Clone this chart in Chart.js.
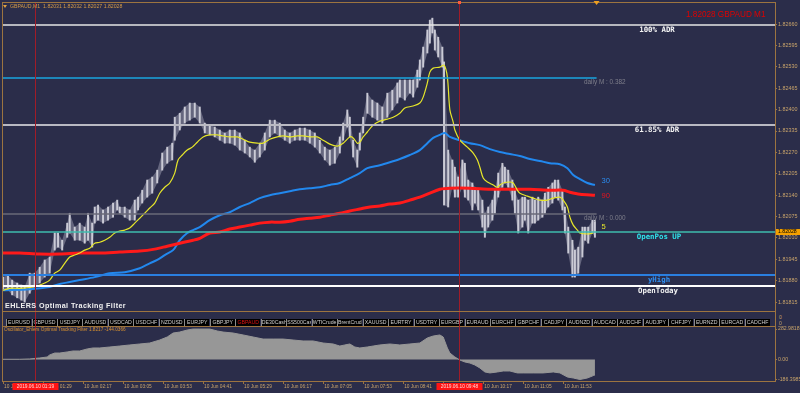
<!DOCTYPE html>
<html>
<head>
<meta charset="utf-8">
<script src="https://cdn.jsdelivr.net/npm/chart.js@4.4.1/dist/chart.umd.min.js"></script>
<style>
  html, body { margin: 0; padding: 0; background: #2b2d4a; }
  #wrap { position: relative; width: 800px; height: 393px; overflow: hidden; background: #2b2d4a; font-family: "Liberation Sans", Arial, sans-serif; }
  canvas { position: absolute; left: 0; }
  #main { top: 0; }
  #osc { top: 326px; }
  .txt { position: absolute; white-space: nowrap; line-height: 1; }
  #head { left: 10px; top: 4px; font-size: 5.2px; color: #d49a46; }
  #headTri { position: absolute; left: 3px; top: 5px; width: 0; height: 0; border-left: 2.5px solid transparent; border-right: 2.5px solid transparent; border-top: 3px solid #e0a040; }
  #symbol { left: 686px; top: 11px; font-size: 8.2px; color: #e00000; }
  #ehlers { left: 5px; top: 302px; font-size: 7.2px; font-weight: bold; color: #f0f0f0; letter-spacing: 0.4px; }
  #tabwin { position: absolute; left: 2px; top: 312px; width: 774px; height: 14px; border-left: 1px solid #9c7440; border-right: 1px solid #9c7440; box-sizing: border-box; }
  .tab { position: absolute; top: 319px; height: 7px; width: 24px; background: #000; color: #cfcfcf; font-size: 5.2px; line-height: 7px; text-align: center; border-left: 1px solid #8a8a8a; overflow: hidden; white-space: nowrap; }
  #osctitle { left: 4px; top: 328px; font-size: 4.7px; color: #d8902e; }
  .ax0 { left: 779px; font-size: 5px; color: #c9a46a; }
  .vseg { position: absolute; width: 1px; background: #a01c28; }
</style>
</head>
<body>
<div id="wrap">
  <canvas id="main" width="800" height="312"></canvas>
  <div id="tabwin"></div>
  <canvas id="osc" width="800" height="67"></canvas>
  <div id="headTri"></div>
  <div class="txt" id="head">GBPAUD,M1&nbsp; 1.82031 1.82032 1.82027 1.82028</div>
  <div class="txt" id="symbol">1.82028 GBPAUD M1</div>
  <div class="txt" id="ehlers">EHLERS Optimal Tracking Filter</div>
  <div class="txt" id="osctitle">Oscillator_Ehlers Optimal Tracking Filter 1.8217 -144.0366</div>
  <div class="txt ax0" style="top:315px">0</div>
  <div class="txt ax0" style="top:321px">0</div>
</div>
<script>
// time in minutes from 10 Jun 00:00, prices in GBPAUD
const barTime = [41,47,52,58,63,67,73,79,85,91,97,103,107,112,118,121,127,133,139,143,148,151,155,161,167,173,178,181,187,193,199,203,208,214,220,226,232,238,244,247,253,259,265,271,277,283,289,295,301,307,313,319,325,331,337,343,349,355,361,367,373,379,385,391,397,403,409,415,421,427,433,439,445,449,454,457,461,466,469,473,478,484,490,496,502,508,514,517,523,529,533,538,541,545,550,553,556,559,563,568,570,575,580,583,587,592,595,599,604,607,611,616,619,623,628,631,635,640,643,647,652,655,659,664,667,671,676,679,683,688,691,695,700,703,707,712,715,719,724,727,731,736,739,743,748,751];
const barHigh = [1.81891,1.81897,1.81882,1.81873,1.81867,1.81861,1.81903,1.81903,1.81921,1.81943,1.81952,1.82025,1.82025,1.82003,1.82055,1.82085,1.82043,1.82055,1.82043,1.82085,1.82055,1.82104,1.82110,1.82095,1.82104,1.82116,1.82125,1.82104,1.82104,1.82095,1.82125,1.82134,1.82155,1.82186,1.82195,1.82216,1.82268,1.82286,1.82298,1.82377,1.82389,1.82408,1.82420,1.82420,1.82408,1.82359,1.82353,1.82347,1.82338,1.82329,1.82338,1.82338,1.82329,1.82307,1.82286,1.82277,1.82298,1.82329,1.82368,1.82368,1.82359,1.82338,1.82329,1.82338,1.82344,1.82344,1.82338,1.82329,1.82307,1.82286,1.82277,1.82286,1.82317,1.82359,1.82399,1.82377,1.82307,1.82277,1.82329,1.82377,1.82450,1.82429,1.82420,1.82408,1.82450,1.82459,1.82481,1.82490,1.82490,1.82490,1.82490,1.82520,1.82551,1.82590,1.82642,1.82672,1.82678,1.82642,1.82620,1.82590,1.82545,1.82277,1.82247,1.82225,1.82195,1.82247,1.82237,1.82186,1.82177,1.82164,1.82155,1.82125,1.82085,1.82104,1.82125,1.82155,1.82207,1.82237,1.82225,1.82216,1.82186,1.82155,1.82125,1.82134,1.82134,1.82125,1.82134,1.82125,1.82134,1.82125,1.82146,1.82164,1.82177,1.82186,1.82186,1.82155,1.82104,1.82043,1.82003,1.81973,1.81982,1.82043,1.82043,1.82043,1.82064,1.82064];
const barLow = [1.81851,1.81851,1.81837,1.81828,1.81821,1.81815,1.81842,1.81861,1.81873,1.81891,1.81903,1.81973,1.81982,1.81973,1.82012,1.82025,1.82003,1.82003,1.81994,1.82003,1.81982,1.82055,1.82064,1.82055,1.82064,1.82073,1.82095,1.82085,1.82073,1.82064,1.82064,1.82095,1.82116,1.82134,1.82146,1.82177,1.82216,1.82237,1.82247,1.82307,1.82338,1.82359,1.82368,1.82377,1.82359,1.82329,1.82323,1.82317,1.82307,1.82298,1.82298,1.82292,1.82277,1.82268,1.82256,1.82240,1.82256,1.82277,1.82317,1.82329,1.82317,1.82307,1.82298,1.82307,1.82307,1.82307,1.82298,1.82286,1.82268,1.82247,1.82231,1.82237,1.82268,1.82307,1.82347,1.82317,1.82256,1.82225,1.82277,1.82329,1.82389,1.82377,1.82368,1.82359,1.82377,1.82399,1.82420,1.82438,1.82429,1.82450,1.82438,1.82468,1.82490,1.82529,1.82572,1.82602,1.82633,1.82581,1.82560,1.82529,1.82110,1.82104,1.82164,1.82134,1.82134,1.82164,1.82134,1.82125,1.82095,1.82116,1.82095,1.82043,1.82012,1.82043,1.82064,1.82085,1.82134,1.82164,1.82177,1.82164,1.82125,1.82085,1.82025,1.82043,1.82064,1.82025,1.82055,1.82055,1.82064,1.82073,1.82085,1.82104,1.82116,1.82134,1.82125,1.82095,1.82025,1.81964,1.81891,1.81891,1.81903,1.81952,1.82003,1.81994,1.82025,1.82012];

// moving averages shown on the chart (labels 5, 30, 90)
const ma5Time = [41,49,61,77,85,91,97,103,109,115,121,127,133,139,145,151,157,163,169,175,181,187,193,199,205,211,217,223,229,235,241,247,251,256,262,268,274,281,289,298,305,313,322,329,337,346,353,361,370,377,385,394,401,409,418,425,433,442,449,457,461,466,469,473,478,485,493,502,509,517,523,533,541,545,550,553,557,565,570,574,577,581,583,589,598,605,610,613,617,622,629,634,637,641,649,653,658,661,670,677,685,694,701,709,713,718,721,725,730,733,742,749];
const ma5Val = [1.81851,1.81857,1.81857,1.81861,1.81867,1.81873,1.81882,1.81903,1.81912,1.81933,1.81952,1.81958,1.81964,1.81973,1.81979,1.81994,1.81997,1.82003,1.82012,1.82025,1.82031,1.82034,1.82040,1.82055,1.82070,1.82085,1.82101,1.82116,1.82146,1.82164,1.82177,1.82207,1.82247,1.82262,1.82277,1.82286,1.82301,1.82317,1.82323,1.82323,1.82320,1.82317,1.82317,1.82310,1.82301,1.82298,1.82298,1.82310,1.82317,1.82320,1.82317,1.82320,1.82320,1.82317,1.82317,1.82307,1.82295,1.82289,1.82298,1.82317,1.82314,1.82298,1.82301,1.82317,1.82332,1.82353,1.82365,1.82371,1.82377,1.82389,1.82405,1.82411,1.82420,1.82438,1.82481,1.82514,1.82526,1.82529,1.82535,1.82499,1.82399,1.82362,1.82338,1.82307,1.82286,1.82268,1.82247,1.82225,1.82192,1.82180,1.82171,1.82164,1.82171,1.82177,1.82180,1.82177,1.82155,1.82146,1.82137,1.82131,1.82125,1.82125,1.82131,1.82134,1.82125,1.82104,1.82073,1.82049,1.82034,1.82025,1.82022,1.82025];
const ma30Time = [41,73,97,109,121,133,151,169,187,205,217,226,235,245,253,262,269,277,289,301,313,325,337,349,361,373,385,397,409,421,433,445,457,469,478,493,505,517,529,541,550,557,565,571,577,589,601,613,625,637,649,661,673,685,697,709,718,725,733,742,751];
const ma30Val = [1.81851,1.81854,1.81861,1.81870,1.81876,1.81882,1.81891,1.81903,1.81906,1.81918,1.81933,1.81943,1.81958,1.81973,1.82003,1.82025,1.82034,1.82043,1.82064,1.82079,1.82088,1.82104,1.82116,1.82131,1.82140,1.82146,1.82152,1.82158,1.82161,1.82164,1.82171,1.82177,1.82192,1.82207,1.82222,1.82231,1.82240,1.82250,1.82262,1.82277,1.82298,1.82314,1.82323,1.82329,1.82317,1.82307,1.82298,1.82292,1.82280,1.82271,1.82265,1.82259,1.82250,1.82244,1.82237,1.82234,1.82222,1.82201,1.82189,1.82177,1.82171];
const ma90Time = [41,61,85,109,133,157,181,205,223,238,253,269,277,289,301,313,325,337,349,361,373,385,397,409,421,433,445,457,469,481,493,505,517,529,541,553,565,577,601,625,649,673,697,713,721,733,751];
const ma90Val = [1.81964,1.81964,1.81961,1.81961,1.81964,1.81964,1.81967,1.81970,1.81976,1.81985,1.81994,1.82003,1.82009,1.82025,1.82028,1.82037,1.82043,1.82049,1.82055,1.82058,1.82058,1.82061,1.82067,1.82070,1.82073,1.82079,1.82085,1.82092,1.82098,1.82104,1.82107,1.82113,1.82116,1.82125,1.82134,1.82146,1.82158,1.82161,1.82161,1.82158,1.82158,1.82158,1.82155,1.82155,1.82149,1.82143,1.82140];
const maNames = ['30', '90', '5'];

// horizontal levels
const levelNames = ['100% ADR', 'daily M : 0.382', '61.85% ADR', 'daily M : 0.000', 'OpenPos UP', 'yHigh', 'OpenToday'];
const levelValues = [1.82657, 1.82496, 1.82353, 1.82083, 1.82028, 1.81896, 1.81864];
const lastPrice = 1.82028;

// oscillator sub-window
const oscTime = [41,61,73,85,94,97,103,109,118,125,133,142,149,157,169,181,193,205,217,229,238,245,253,262,269,277,289,298,305,317,329,341,353,365,377,389,401,413,425,437,445,451,457,463,469,478,485,493,505,517,529,541,550,557,565,569,574,577,583,589,595,601,607,613,619,625,634,641,649,658,665,677,689,701,709,718,725,733,742,749,751];
const oscVal = [2,2,5,14,23,42,60,60,70,79,79,98,107,107,116,125,135,144,153,181,209,246,255,274,283,283,283,265,255,246,228,209,190,190,190,181,172,172,153,144,125,135,144,116,107,116,125,135,144,135,144,153,200,218,228,209,107,60,23,-5,-23,-33,-51,-79,-116,-125,-116,-107,-107,-125,-125,-125,-125,-116,-125,-163,-172,-186,-172,-150,-144];

// axes
const priceTicks = [1.82660, 1.82595, 1.82530, 1.82465, 1.82400, 1.82335, 1.82270, 1.82205, 1.82140, 1.82075, 1.82010, 1.81945, 1.81880, 1.81815];
const oscTicks = [-186.3985, 0, 282.9818];
const oscTickLabels = ['-186.3985', '0.00', '282.9818'];
const timeTicks = [41, 89, 137, 185, 233, 281, 329, 377, 425, 473, 521, 569, 617, 665, 713];
const timeLabels = ['10 Jun 00:41', '10 Jun 01:29', '10 Jun 02:17', '10 Jun 03:05', '10 Jun 03:53', '10 Jun 04:41', '10 Jun 05:29', '10 Jun 06:17', '10 Jun 07:05', '10 Jun 07:53', '10 Jun 08:41', '10 Jun 09:29', '10 Jun 10:17', '10 Jun 11:05', '10 Jun 11:53'];
const cursorTimes = [79, 588];
const cursorLabels = ['2019.06.10 01:19', '2019.06.10 09:48'];

const tabNames = ['EURUSD','GBPUSD','USDJPY','AUDUSD','USDCAD','USDCHF','NZDUSD','EURJPY','GBPJPY','GBPAUD','DE30Cash','SS500Cash','WTICrude','BrentCrude','XAUUSD','EURTRY','USDTRY','EURGBP','EURAUD','EURCHF','GBPCHF','CADJPY','AUDNZD','AUDCAD','AUDCHF','AUDJPY','CHFJPY','EURNZD','EURCAD','CADCHF'];

const X_MIN = 41, X_MAX = 967;
const FRAME = '#9c7440';
const AXIS_TXT = '#c9a46a';
const CURSOR = '#a01c28';
const monoBold = 'bold 7.4px "DejaVu Sans Mono"';
const small = '6.4px "Liberation Sans"';

const levelStyle = [
  { color: '#e6e6e6', width: 1.5, short: false, font: monoBold, text: '#f4f4f4', tx: 657, align: 'center' },
  { color: '#1aa6e0', width: 1.5, short: true,  font: small,    text: '#7e7e8a', tx: 584, align: 'left' },
  { color: '#b9b9c2', width: 2,   short: false, font: monoBold, text: '#f4f4f4', tx: 657, align: 'center' },
  { color: '#6a6a78', width: 1.5, short: true,  font: small,    text: '#7e7e8a', tx: 584, align: 'left' },
  { color: '#3fbcae', width: 1.5, short: false, font: monoBold, text: '#2fe2ea', tx: 659, align: 'center' },
  { color: '#2a7fe0', width: 2,   short: false, font: monoBold, text: '#2f8ff2', tx: 659, align: 'center' },
  { color: '#ffffff', width: 2,   short: false, font: monoBold, text: '#f4f4f4', tx: 658, align: 'center' }
];
const maStyle = [
  { color: '#2a8cf0', dy: -4 },
  { color: '#e8121e', dy: 1 },
  { color: '#e6e62a', dy: -6 }
];

function pts(xs, ys) { return xs.map((t, i) => ({ x: t, y: ys[i] })); }

const mainDecor = {
  id: 'mainDecor',
  afterDatasetsDraw(chart) {
    const { ctx, chartArea: a, scales: { x, y } } = chart;
    const shortEnd = x.getPixelForValue(barTime[barTime.length - 1] + 2);
    ctx.save();
    levelValues.forEach((v, i) => {
      const s = levelStyle[i];
      const py = Math.round(y.getPixelForValue(v));
      ctx.strokeStyle = s.color;
      ctx.lineWidth = s.width;
      ctx.beginPath();
      ctx.moveTo(a.left, py);
      ctx.lineTo(s.short ? shortEnd : a.right, py);
      ctx.stroke();
      ctx.font = s.font;
      ctx.fillStyle = s.text;
      ctx.textAlign = s.align;
      ctx.textBaseline = 'top';
      ctx.fillText(levelNames[i], s.tx, py + 1.5);
    });
    // MA end labels
    const lasts = [ma30Val[ma30Val.length - 1], ma90Val[ma90Val.length - 1], ma5Val[ma5Val.length - 1]];
    ctx.font = '7.6px "Liberation Sans"';
    ctx.textAlign = 'left';
    ctx.textBaseline = 'middle';
    maNames.forEach((n, i) => {
      ctx.fillStyle = maStyle[i].color;
      ctx.fillText(n, shortEnd + 5, y.getPixelForValue(lasts[i]) + maStyle[i].dy);
    });
    // cursor lines
    ctx.strokeStyle = CURSOR;
    ctx.lineWidth = 1;
    cursorTimes.forEach(t => {
      const px = Math.round(x.getPixelForValue(t)) + 0.5;
      ctx.beginPath();
      ctx.moveTo(px, a.top);
      ctx.lineTo(px, chart.height);
      ctx.stroke();
    });
    ctx.restore();
  },
  afterDraw(chart) {
    const { ctx, chartArea: a, scales: { x, y } } = chart;
    ctx.save();
    ctx.strokeStyle = FRAME;
    ctx.lineWidth = 1;
    ctx.strokeRect(a.left - 0.5, a.top - 0.5, a.right - a.left + 1, a.bottom - a.top + 1);
    // current price marker on the axis
    const py = y.getPixelForValue(lastPrice);
    ctx.fillStyle = '#f5a000';
    ctx.fillRect(a.right + 1, py - 3, 25, 6);
    ctx.fillStyle = '#000';
    ctx.font = '5.2px "Liberation Sans"';
    ctx.textBaseline = 'middle';
    ctx.textAlign = 'left';
    ctx.fillText(lastPrice.toFixed(5), a.right + 3, py);
    // small top markers
    const cx = Math.round(x.getPixelForValue(cursorTimes[1]));
    ctx.fillStyle = '#ff5a3c';
    ctx.fillRect(cx - 1, a.top - 2, 3, 3);
    const sx = x.getPixelForValue(barTime[barTime.length - 1] + 2);
    ctx.fillStyle = '#f0a020';
    ctx.beginPath();
    ctx.moveTo(sx - 3, a.top - 2);
    ctx.lineTo(sx + 3, a.top - 2);
    ctx.lineTo(sx, a.top + 2);
    ctx.closePath();
    ctx.fill();
    ctx.restore();
  }
};

const oscDecor = {
  id: 'oscDecor',
  afterDraw(chart) {
    const { ctx, chartArea: a, scales: { x } } = chart;
    ctx.save();
    ctx.strokeStyle = FRAME;
    ctx.lineWidth = 1;
    ctx.strokeRect(a.left - 0.5, a.top - 0.5, a.right - a.left + 1, a.bottom - a.top + 1);
    ctx.strokeStyle = CURSOR;
    cursorTimes.forEach((t, i) => {
      const px = Math.round(x.getPixelForValue(t)) + 0.5;
      ctx.beginPath();
      ctx.moveTo(px, 0);
      ctx.lineTo(px, a.bottom);
      ctx.stroke();
      ctx.fillStyle = '#ff1414';
      ctx.fillRect(px - 23, a.bottom + 2, 46, 7);
      ctx.fillStyle = '#ffd8d8';
      ctx.font = '4.8px "Liberation Sans"';
      ctx.textAlign = 'center';
      ctx.textBaseline = 'middle';
      ctx.fillText(cursorLabels[i], px, a.bottom + 5.7);
    });
    ctx.restore();
  }
};

const mainChart = new Chart(document.getElementById('main'), {
  type: 'bar',
  data: {
    datasets: [
      { type: 'line', data: pts(ma5Time, ma5Val), borderColor: '#e6e62a', borderWidth: 1.2, pointRadius: 0, tension: 0.3, order: 0 },
      { type: 'line', data: pts(ma90Time, ma90Val), borderColor: '#ff1a1a', borderWidth: 3, pointRadius: 0, tension: 0.3, order: 1 },
      { type: 'line', data: pts(ma30Time, ma30Val), borderColor: '#2288ee', borderWidth: 2, pointRadius: 0, tension: 0.3, order: 2 },
      { type: 'bar', data: barTime.map((t, i) => ({ x: t, y: [barLow[i], barHigh[i]] })), backgroundColor: 'rgba(214,214,224,0.9)', barThickness: 1.3, order: 3 },
      { type: 'line', data: pts(barTime, barHigh), borderWidth: 0, pointRadius: 0, fill: false, order: 4 },
      { type: 'line', data: pts(barTime, barLow), borderWidth: 0, pointRadius: 0, fill: '-1', backgroundColor: 'rgba(150,150,170,0.55)', order: 5 }
    ]
  },
  options: {
    responsive: false,
    animation: false,
    events: [],
    layout: { padding: { left: 3, top: 3, right: 0, bottom: 1 } },
    plugins: { legend: { display: false }, tooltip: { enabled: false } },
    scales: {
      x: { type: 'linear', min: X_MIN, max: X_MAX, display: false, offset: false },
      y: {
        type: 'linear', position: 'right', min: 1.81788, max: 1.82724,
        afterBuildTicks: s => { s.ticks = priceTicks.map(v => ({ value: v })); },
        afterFit: s => { s.width = 25; s.paddingTop = 0; s.paddingBottom = 0; },
        ticks: { autoSkip: false, color: AXIS_TXT, font: { size: 5.4, family: 'Liberation Sans' }, padding: 1, callback: v => v.toFixed(5) },
        grid: { drawOnChartArea: false, tickLength: 2, color: FRAME },
        border: { display: true, color: FRAME }
      }
    }
  },
  plugins: [mainDecor]
});

new Chart(document.getElementById('osc'), {
  type: 'line',
  data: {
    datasets: [
      { data: pts(oscTime, oscVal), borderColor: '#979797', backgroundColor: '#979797', borderWidth: 1, pointRadius: 0, fill: 'origin', tension: 0 }
    ]
  },
  options: {
    responsive: false,
    animation: false,
    events: [],
    layout: { padding: { left: 3, top: 1, right: 0, bottom: 0 } },
    plugins: { legend: { display: false }, tooltip: { enabled: false } },
    scales: {
      x: {
        type: 'linear', min: X_MIN, max: X_MAX, position: 'bottom',
        afterBuildTicks: s => { s.ticks = timeTicks.map(v => ({ value: v })); },
        afterFit: s => { s.height = 12; s.paddingLeft = 0; s.paddingRight = 0; },
        ticks: { autoSkip: false, maxRotation: 0, align: 'start', labelOffset: 1, padding: 0, color: AXIS_TXT, font: { size: 4.8, family: 'Liberation Sans' }, callback: (v, i) => timeLabels[i] },
        grid: { drawOnChartArea: false, tickLength: 3, color: FRAME },
        border: { display: true, color: FRAME }
      },
      y: {
        type: 'linear', position: 'right', min: -200, max: 302,
        afterBuildTicks: s => { s.ticks = oscTicks.map(v => ({ value: v })); },
        afterFit: s => { s.width = 25; s.paddingTop = 0; s.paddingBottom = 0; },
        ticks: { autoSkip: false, color: AXIS_TXT, font: { size: 5.2, family: 'Liberation Sans' }, padding: 1, callback: (v, i) => oscTickLabels[i] },
        grid: { drawOnChartArea: false, tickLength: 2, color: FRAME },
        border: { display: true, color: FRAME }
      }
    }
  },
  plugins: [oscDecor]
});

// symbol tabs between the two windows
const wrap = document.getElementById('wrap');
tabNames.forEach((n, i) => {
  const d = document.createElement('div');
  d.className = 'tab';
  d.style.left = (6 + i * 25.47).toFixed(1) + 'px';
  if (n === 'GBPAUD') d.style.color = '#e01010';
  d.textContent = n;
  wrap.appendChild(d);
});
// cursor lines crossing the tab strip
cursorTimes.forEach(t => {
  const d = document.createElement('div');
  d.className = 'vseg';
  d.style.left = Math.round(mainChart.scales.x.getPixelForValue(t)) + 'px';
  d.style.top = '312px';
  d.style.height = '14px';
  wrap.appendChild(d);
});
</script>
</body>
</html>
